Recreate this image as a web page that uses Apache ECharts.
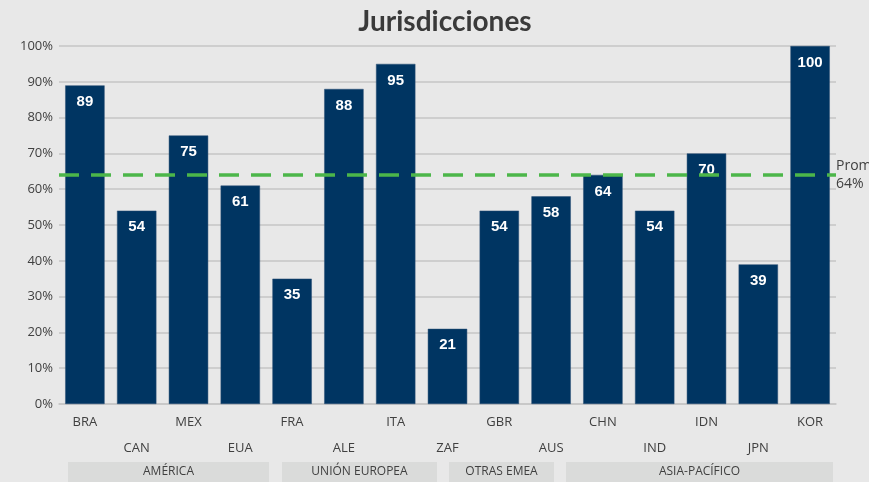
<!DOCTYPE html>
<html>
<head>
<meta charset="utf-8">
<script src="https://cdn.jsdelivr.net/npm/echarts@6/dist/echarts.min.js"></script>
<style>
html, body { margin: 0; padding: 0; background: #e8e8e8; }
#chart { width: 869px; height: 482px; }
</style>
</head>
<body>
<div id="chart"></div>
<script>
const countries = ["BRA", "CAN", "MEX", "EUA", "FRA", "ALE", "ITA", "ZAF", "GBR", "AUS", "CHN", "IND", "IDN", "JPN", "KOR"];
const scores = [89, 54, 75, 61, 35, 88, 95, 21, 54, 58, 64, 54, 70, 39, 100];
const average = 64;
const groupNames = ["AMÉRICA", "UNIÓN EUROPEA", "OTRAS EMEA", "ASIA-PACÍFICO"];
// pixel extents of the region strips under the axis
const groupBoxes = [[68, 269], [282, 437], [449, 554], [566, 833]];

const textColor = "#404040";
const gridColor = "#c6c6c6";
const uiFont = "'Open Sans', 'Lato', sans-serif";

const chart = echarts.init(document.getElementById("chart"));

let graphics = [];
groupNames.forEach((name, i) => {
  const [x0, x1] = groupBoxes[i];
  graphics.push({
    type: "rect",
    shape: { x: x0, y: 462, width: x1 - x0, height: 22 },
    style: { fill: "#dadbda" },
  });
  graphics.push({
    type: "text",
    x: (x0 + x1) / 2,
    y: 472,
    style: {
      text: name,
      fill: textColor,
      font: "12px " + uiFont,
      textAlign: "center",
      textVerticalAlign: "middle",
    },
  });
});

const option = {
  backgroundColor: "#e8e8e8",
  animation: false,
  title: {
    text: "Jurisdicciones",
    left: 440,
    textAlign: "center",
    top: 3,
    textStyle: {
      color: "#3a3a3a",
      fontFamily: "Lato, 'Open Sans', sans-serif",
      fontWeight: "bold",
      fontSize: 28,
    },
  },
  grid: { left: 59, right: 33, top: 46, bottom: 78 },
  xAxis: [
    {
      type: "category",
      data: countries,
      axisLine: { lineStyle: { color: gridColor, width: 1.5 } },
      axisTick: {
        alignWithLabel: true,
        interval: (i) => i % 2 === 0,
        length: 8,
        lineStyle: { color: gridColor, width: 1.5 },
      },
      axisLabel: {
        interval: 0,
        margin: 5,
        color: textColor,
        fontFamily: uiFont,
        fontSize: 13,
        lineHeight: 26,
        formatter: (v, i) => (i % 2 ? "\n" + v : v),
      },
    },
    {
      type: "category",
      data: countries,
      position: "bottom",
      axisLine: { show: false },
      axisLabel: { show: false },
      axisTick: {
        alignWithLabel: true,
        interval: (i) => i % 2 === 1,
        length: 33,
        lineStyle: { color: gridColor, width: 1.5 },
      },
    },
  ],
  yAxis: {
    type: "value",
    min: 0,
    max: 100,
    interval: 10,
    axisLine: { show: false },
    axisTick: { show: false },
    axisLabel: {
      formatter: "{value}%",
      color: textColor,
      fontFamily: uiFont,
      fontSize: 13,
      margin: 6,
    },
    splitLine: { lineStyle: { color: gridColor, width: 1.5 } },
  },
  series: [
    {
      type: "bar",
      data: scores,
      barCategoryGap: "24%",
      itemStyle: { color: "#003562", borderColor: "#2a4f74", borderWidth: 0.5 },
      label: {
        show: true,
        position: "insideTop",
        distance: 9,
        color: "#ffffff",
        fontFamily: "'Liberation Sans', Arial, sans-serif",
        fontWeight: "bold",
        fontSize: 15,
      },
      markLine: {
        silent: true,
        symbol: "none",
        lineStyle: { color: "#4cb64a", type: [20, 12], width: 3.5 },
        label: {
          position: "end",
          distance: 0,
          formatter: "Promedio\n" + average + "%",
          color: textColor,
          fontFamily: uiFont,
          fontSize: 14,
          lineHeight: 18,
          align: "left",
        },
        data: [{ yAxis: average }],
      },
    },
  ],
  graphic: graphics,
};

chart.setOption(option);
</script>
</body>
</html>
